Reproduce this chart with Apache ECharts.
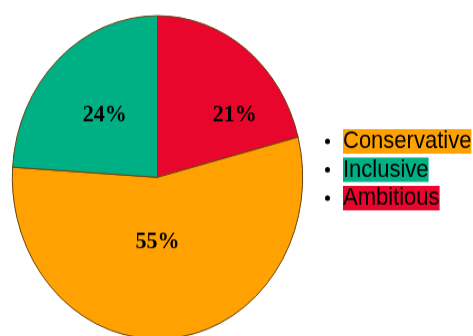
<!DOCTYPE html>
<html>
<head>
<meta charset="utf-8">
<script src="https://cdn.jsdelivr.net/npm/echarts@6/dist/echarts.min.js"></script>
<style>
    html, body { margin: 0; padding: 0; background: #fff; }
    #wrap { width: 473px; height: 336px; overflow: hidden; position: relative; }
    /* the source picture is stretched vertically, so the whole chart is too */
    #main { position: absolute; left: 0; top: 0; width: 473px; height: 302px; transform: scaleY(1.113); transform-origin: 0 0; }
</style>
</head>
<body>
<div id="wrap"><div id="main"></div></div>
<script>
// slices, clockwise from 12 o'clock
var categories = ['Ambitious', 'Conservative', 'Inclusive'];
var shares = [21, 55, 24];
var legendOrder = ['Conservative', 'Inclusive', 'Ambitious'];

var colors = {
    Ambitious: '#e8062c',
    Conservative: '#ffa100',
    Inclusive: '#00b085'
};
// small nudges of the percent labels, by slice
var labelShift = [[31, 3.5], [-7, -17], [-1, -1]];

(function () {
    var chart = echarts.init(document.getElementById('main'));

    var pieData = categories.map(function (name, i) {
        return {
            name: name,
            value: shares[i],
            itemStyle: { color: colors[name] }
        };
    });

    var rich = { sp: { width: 8, lineHeight: 25 } };
    legendOrder.forEach(function (name, i) {
        rich['k' + i] = {
            backgroundColor: colors[name],
            color: '#000',
            fontSize: 22,
            lineHeight: 25,
            fontFamily: 'Liberation Sans, Arial, sans-serif'
        };
    });

    var option = {
        animation: false,
        legend: {
            orient: 'vertical',
            left: 320,
            top: 111,
            icon: 'circle',
            itemWidth: 5,
            itemHeight: 5,
            itemGap: 3.5,
            selectedMode: false,
            itemStyle: { color: '#000', borderWidth: 0 },
            data: legendOrder,
            formatter: function (name) {
                return '{sp| }{k' + legendOrder.indexOf(name) + '|' + name + '}';
            },
            textStyle: { rich: rich }
        },
        series: [
            {
                type: 'pie',
                center: [157.5, 159.3],
                radius: 145.2,
                startAngle: 90,
                clockwise: true,
                silent: true,
                data: pieData,
                itemStyle: { borderColor: '#6b4012', borderWidth: 1 },
                label: {
                    position: 'inside',
                    formatter: function (p) { return p.value + '%'; },
                    color: '#000',
                    fontSize: 22,
                    fontWeight: 'bold',
                    fontFamily: 'Liberation Serif, Times New Roman, serif'
                },
                labelLine: { show: false },
                labelLayout: function (p) {
                    return { dx: labelShift[p.dataIndex][0], dy: labelShift[p.dataIndex][1] };
                },
                emphasis: { disabled: true }
            }
        ]
    };

    chart.setOption(option);
})();
</script>
</body>
</html>
